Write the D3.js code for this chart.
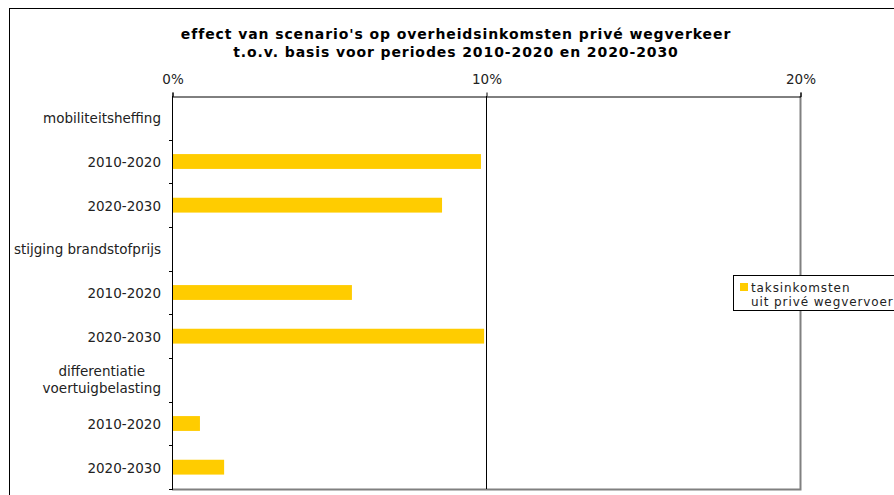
<!DOCTYPE html>
<html>
<head>
<meta charset="utf-8">
<script src="https://cdn.jsdelivr.net/npm/d3@7"></script>
<style>
  html, body { margin: 0; padding: 0; background: #fff; }
  svg { display: block; }
  text { font-family: "DejaVu Sans", Verdana, sans-serif; }
</style>
</head>
<body>
<svg id="chart" width="894" height="495"></svg>
<script>
// Rows from top to bottom: scenario headers followed by their two periods
const categories = [
  "mobiliteitsheffing", "2010-2020a", "2020-2030a",
  "stijging brandstofprijs", "2010-2020b", "2020-2030b",
  "differentiatie\nvoertuigbelasting", "2010-2020c", "2020-2030c"
];
// Share of extra tax income (fraction); null = header row without a bar
const values = [null, 0.0984, 0.086, null, 0.0573, 0.0994, null, 0.0089, 0.0166];
const xTicks = [0, 0.1, 0.2];
const titleLines = [
  "effect van scenario's op overheidsinkomsten privé wegverkeer",
  "t.o.v. basis voor periodes 2010-2020 en 2020-2030"
];
const legendLines = ["taksinkomsten", "uit privé wegvervoer"];

const svg = d3.select("#chart");
const plot = { left: 172, right: 800, top: 96, bottom: 489 };
const barColor = "#ffcc00";
const labelSize = 13.5;

// Outer chart frame (extends past the right and bottom edges)
svg.append("rect")
  .attr("x", 9.5).attr("y", 8.5).attr("width", 900).attr("height", 500)
  .attr("fill", "#fff").attr("stroke", "#000").attr("stroke-width", 1);

// Title
svg.append("g").selectAll("text").data(titleLines).join("text")
  .attr("x", 456).attr("y", (d, i) => 39 + i * 18)
  .attr("text-anchor", "middle")
  .attr("font-size", 14).attr("font-weight", "bold")
  .attr("letter-spacing", 0.9)
  .text(d => d);

const x = d3.scaleLinear().domain([0, 0.2]).range([plot.left, plot.right]);
const y = d3.scaleBand().domain(categories).range([plot.top, plot.bottom]);

// Plot area border (gray right and bottom edges)
svg.append("path")
  .attr("d", `M${plot.left},${plot.bottom + 0.5}H${plot.right + 0.5}V${plot.top}`)
  .attr("fill", "none").attr("stroke", "#808080").attr("stroke-width", 2);

// Vertical gridlines
svg.append("g").selectAll("line").data(xTicks.slice(1, -1)).join("line")
  .attr("x1", d => Math.round(x(d)) + 0.5).attr("x2", d => Math.round(x(d)) + 0.5)
  .attr("y1", plot.top).attr("y2", plot.bottom)
  .attr("stroke", "#000").attr("stroke-width", 1);

// Bars
svg.append("g").selectAll("rect")
  .data(categories.map((c, i) => ({ c, v: values[i] })).filter(d => d.v != null))
  .join("rect")
  .attr("x", x(0) + 1)
  .attr("y", d => y(d.c) + y.bandwidth() * 0.33)
  .attr("width", d => x(d.v) - x(0) - 1)
  .attr("height", y.bandwidth() * 0.34)
  .attr("fill", barColor);

// Top value axis
const xAxis = svg.append("g")
  .attr("transform", `translate(0.5,${plot.top + 0.5})`)
  .call(d3.axisTop(x).tickValues(xTicks).tickFormat(d3.format(".0%")).tickSize(4).tickPadding(9));
xAxis.select(".domain").attr("stroke", "#000");
xAxis.selectAll("text").attr("font-size", labelSize).attr("fill", "#222")
  .attr("font-family", "DejaVu Sans, Verdana, sans-serif");

// Left category axis: ticks sit on the band boundaries
const left = svg.append("g");
left.append("line")
  .attr("x1", plot.left + 0.5).attr("x2", plot.left + 0.5)
  .attr("y1", plot.top).attr("y2", plot.bottom + 1)
  .attr("stroke", "#000");
const boundaries = categories.map(c => y(c)).concat([plot.bottom]).slice(1);
left.selectAll("line.tick").data(boundaries).join("line")
  .attr("class", "tick")
  .attr("x1", plot.left - 3).attr("x2", plot.left)
  .attr("y1", d => Math.round(d) + 0.5).attr("y2", d => Math.round(d) + 0.5)
  .attr("stroke", "#000");

const labelX = 161;
categories.forEach(c => {
  const lines = c.replace(/[abc]$/, "").split("\n");
  const cy = y(c) + y.bandwidth() / 2;
  const t = left.append("text")
    .attr("font-size", labelSize).attr("fill", "#222")
    .attr("text-anchor", lines.length > 1 ? "middle" : "end");
  if (lines.length > 1) {
    // Measure the widest line to center the block against the right edge
    const probe = left.append("text").attr("font-size", labelSize)
      .text(lines.reduce((a, b) => a.length > b.length ? a : b));
    const w = probe.node().getComputedTextLength();
    probe.remove();
    lines.forEach((ln, i) => {
      t.append("tspan").attr("x", labelX - w / 2)
        .attr("y", cy + 5 + (i - (lines.length - 1) / 2) * 16.7)
        .text(ln);
    });
  } else {
    t.attr("x", labelX).attr("y", cy + 5.5).text(lines[0]);
  }
});

// Legend: one wrapped label next to the swatch
const lg = svg.append("g");
lg.append("rect")
  .attr("x", 733.5).attr("y", 275.5).attr("width", 200).attr("height", 35)
  .attr("fill", "#fff").attr("stroke", "#000");
lg.append("rect")
  .attr("x", 740).attr("y", 283).attr("width", 8).attr("height", 8)
  .attr("fill", barColor);
lg.append("text")
  .attr("font-size", 12).attr("letter-spacing", 0.9).attr("fill", "#222")
  .selectAll("tspan").data(legendLines).join("tspan")
  .attr("x", 751).attr("y", (d, i) => 291.5 + i * 14.5)
  .text(d => d);
</script>
</body>
</html>
